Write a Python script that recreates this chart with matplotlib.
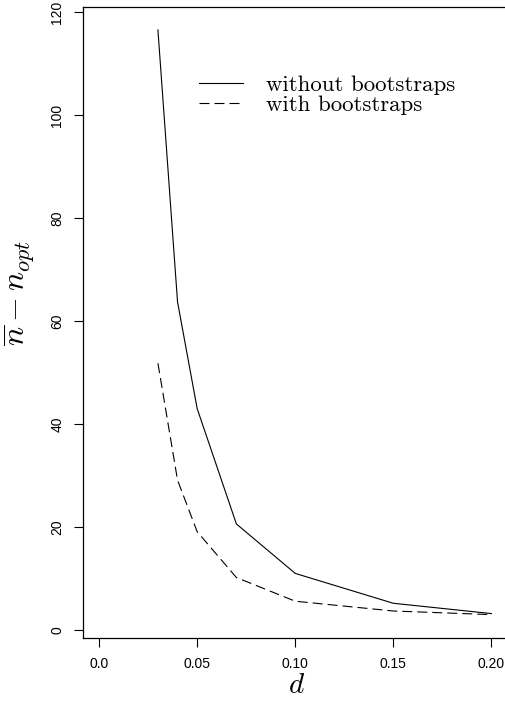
import matplotlib
matplotlib.use("Agg")
import matplotlib.pyplot as plt

# values
d = [0.03, 0.04, 0.05, 0.07, 0.10, 0.15, 0.20]
no_boot = [116.5, 63.7, 43.0, 20.6, 11.0, 5.2, 3.2]
with_boot = [51.8, 29.1, 19.1, 10.2, 5.6, 3.7, 3.0]
xticks = [0.0, 0.05, 0.10, 0.15, 0.20]
xtick_labels = ["0.0", "0.05", "0.10", "0.15", "0.20"]
yticks = [0, 20, 40, 60, 80, 100, 120]

plt.rcParams['font.family'] = ['Liberation Sans', 'DejaVu Sans']
plt.rcParams['mathtext.fontset'] = 'cm'
plt.rcParams['lines.scale_dashes'] = False

fig = plt.figure(figsize=(5.05, 7.01), dpi=100)
# the plot box runs a little past the right edge, as in the cropped original
ax = fig.add_axes([83/505, 62.7/701, 427/505, 631/701])

ax.plot(d, no_boot, color='black', lw=0.8, label='without bootstraps')
ax.plot(d, with_boot, color='black', lw=0.8, dashes=(7.2, 3.6), label='with bootstraps')

ax.set_xlim(-0.0082, 0.2095)
ax.set_ylim(-1.6, 120.9)
ax.set_xticks(xticks)
ax.set_xticklabels(xtick_labels)
ax.set_yticks(yticks)
ax.set_yticklabels([str(v) for v in yticks], rotation=90, va='center')
ax.tick_params(direction='out', length=6.5, width=0.8, labelsize=10, pad=7)

for s in ax.spines.values():
    s.set_linewidth(0.9)

ax.set_xlabel(r'$d$', fontsize=21, labelpad=0)
ax.set_ylabel(r'$\overline{n} - n_{opt}$', fontsize=23)
ax.yaxis.set_label_coords(-0.108, 0.547)

leg = ax.legend(loc='upper left', bbox_to_anchor=(0.251, 0.908), frameon=False,
                prop={'family': 'cmr10', 'size': 16.5}, handlelength=1.9,
                handletextpad=1.0, labelspacing=0.0, borderaxespad=0)

fig.savefig('out.png', dpi=100)
